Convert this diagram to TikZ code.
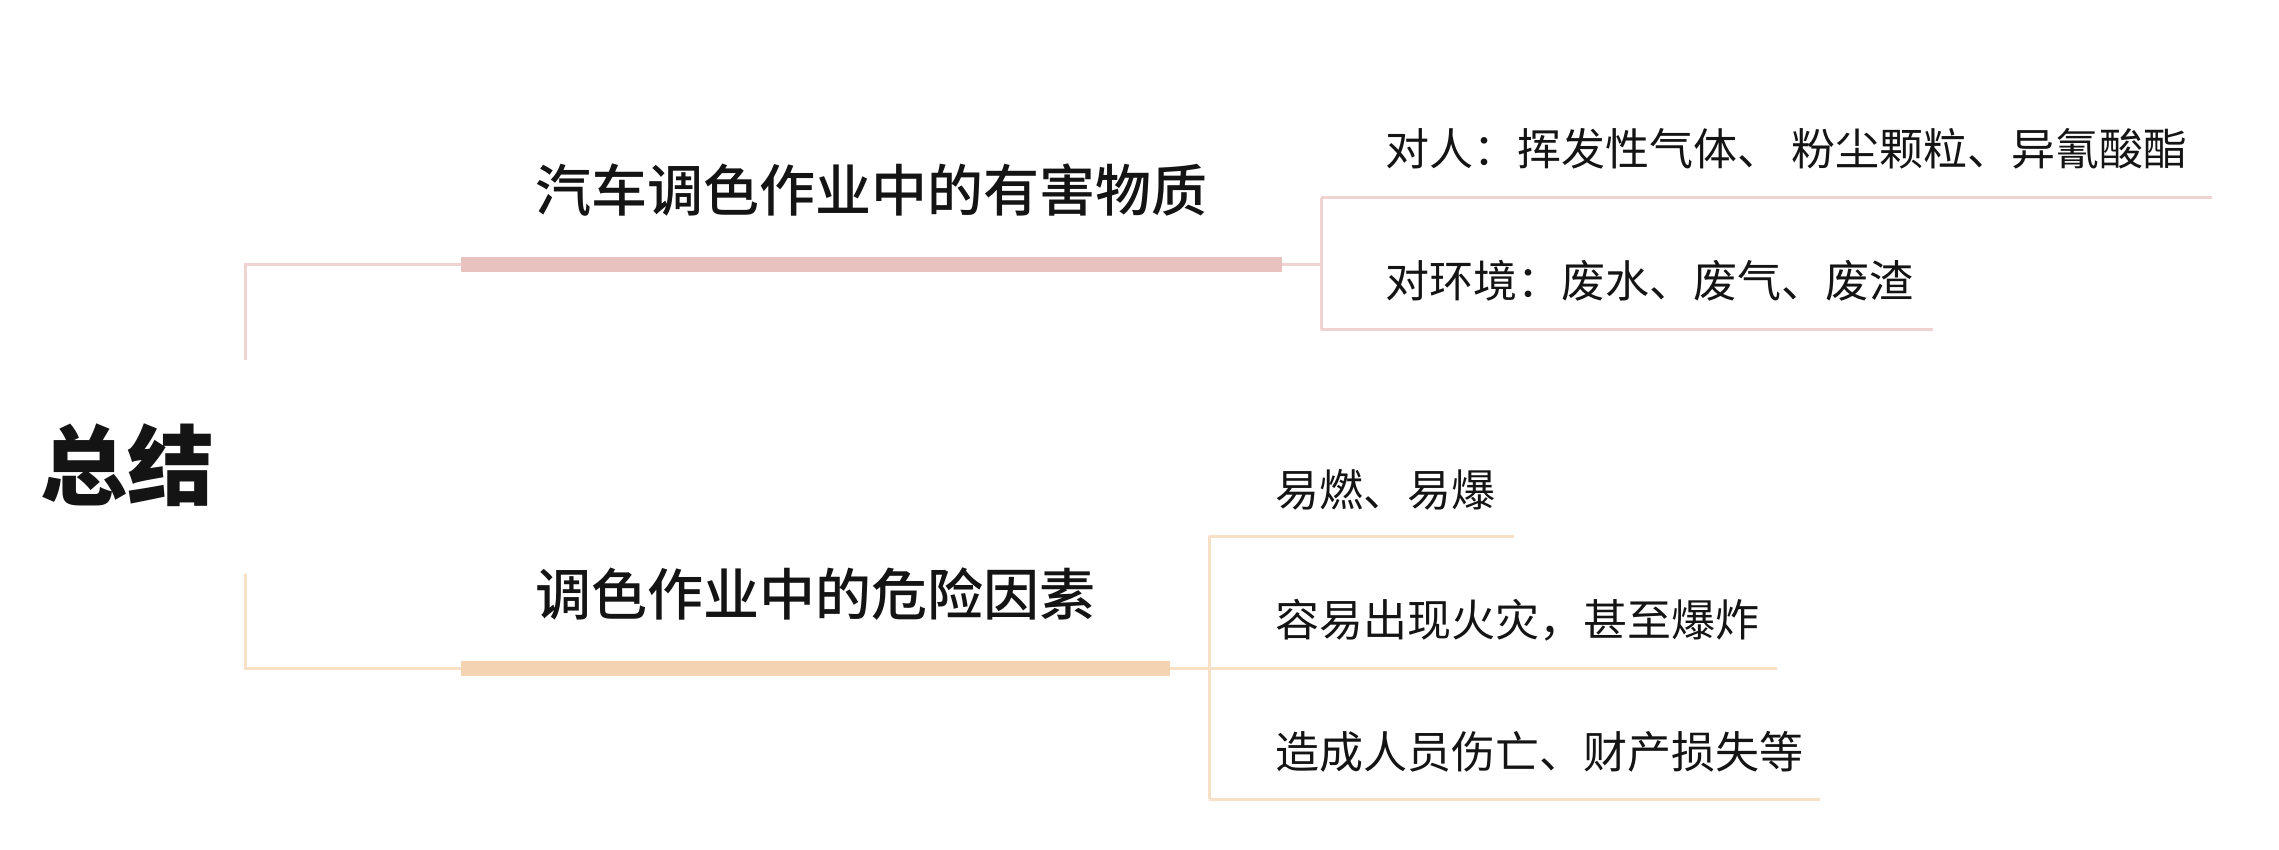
\documentclass[tikz,border=0pt]{standalone}
\usepackage{fontspec}
\newfontfamily\cjk{Noto Sans CJK SC}
\newfontfamily\cjkmed{Noto Sans CJK SC Medium}
\definecolor{pinkbar}{RGB}{232,194,191}
\definecolor{pinkln}{RGB}{240,210,208}
\definecolor{orbar}{RGB}{244,212,176}
\definecolor{orln}{RGB}{248,224,198}
\definecolor{txt}{RGB}{20,20,20}
\tikzset{
  rootnode/.style={anchor=base west, inner sep=0pt, text=txt, font=\cjk\bfseries\fontsize{87}{96}\selectfont},
  titlenode/.style={anchor=base, inner sep=0pt, text=txt, font=\cjkmed\fontsize{56}{64}\selectfont},
  leafnode/.style={anchor=base west, inner sep=0pt, text=txt, font=\cjk\fontsize{44}{50}\selectfont},
  pinkline/.style={draw=pinkln, line width=3pt},
  pinkbarst/.style={draw=pinkbar, line width=15pt},
  orline/.style={draw=orln, line width=3pt},
  orbarst/.style={draw=orbar, line width=15pt}
}
\begin{document}
\begin{tikzpicture}[x=1pt,y=-1pt]
\useasboundingbox (0,0) rectangle (2279,850);
\node[rootnode] (root) at (40,498) {总结};
% top branch
\coordinate (r1) at (245,360);
\coordinate (b1s) at (461,265);
\coordinate (b1e) at (1282,265);
\coordinate (j1) at (1321,265);
\coordinate (v1t) at (1321,198);
\coordinate (v1b) at (1321,330);
\coordinate (l11e) at (2212,198);
\coordinate (l12e) at (1933,330);
\draw[pinkline] (r1) |- (b1s);
\draw[pinkbarst] (b1s) -- (b1e);
\draw[pinkline] (b1e) -- (j1);
\draw[pinkline] (v1t) -- (v1b);
\draw[pinkline] (v1t) -- (l11e);
\draw[pinkline] (v1b) -- (l12e);
\node[titlenode] (t1) at (871,212) {汽车调色作业中的有害物质};
\node[leafnode] (c11) at (1385,166) {对人：挥发性气体、 粉尘颗粒、异氰酸酯};
\node[leafnode] (c12) at (1385,298) {对环境：废水、废气、废渣};
% bottom branch
\coordinate (r2) at (245,574);
\coordinate (b2s) at (461,668);
\coordinate (b2e) at (1170,668);
\coordinate (j2) at (1209,668);
\coordinate (v2t) at (1209,536);
\coordinate (v2b) at (1209,799);
\coordinate (l21e) at (1514,536);
\coordinate (l22e) at (1777,668);
\coordinate (l23e) at (1820,799);
\draw[orline] (r2) |- (b2s);
\draw[orbarst] (b2s) -- (b2e);
\draw[orline] (b2e) -- (j2);
\draw[orline] (v2t) -- (v2b);
\draw[orline] (v2t) -- (l21e);
\draw[orline] (j2) -- (l22e);
\draw[orline] (v2b) -- (l23e);
\node[titlenode] (t2) at (815,615) {调色作业中的危险因素};
\node[leafnode] (c21) at (1275,506) {易燃、易爆};
\node[leafnode] (c22) at (1275,636) {容易出现火灾，甚至爆炸};
\node[leafnode] (c23) at (1275,768) {造成人员伤亡、财产损失等};
\end{tikzpicture}
\end{document}
